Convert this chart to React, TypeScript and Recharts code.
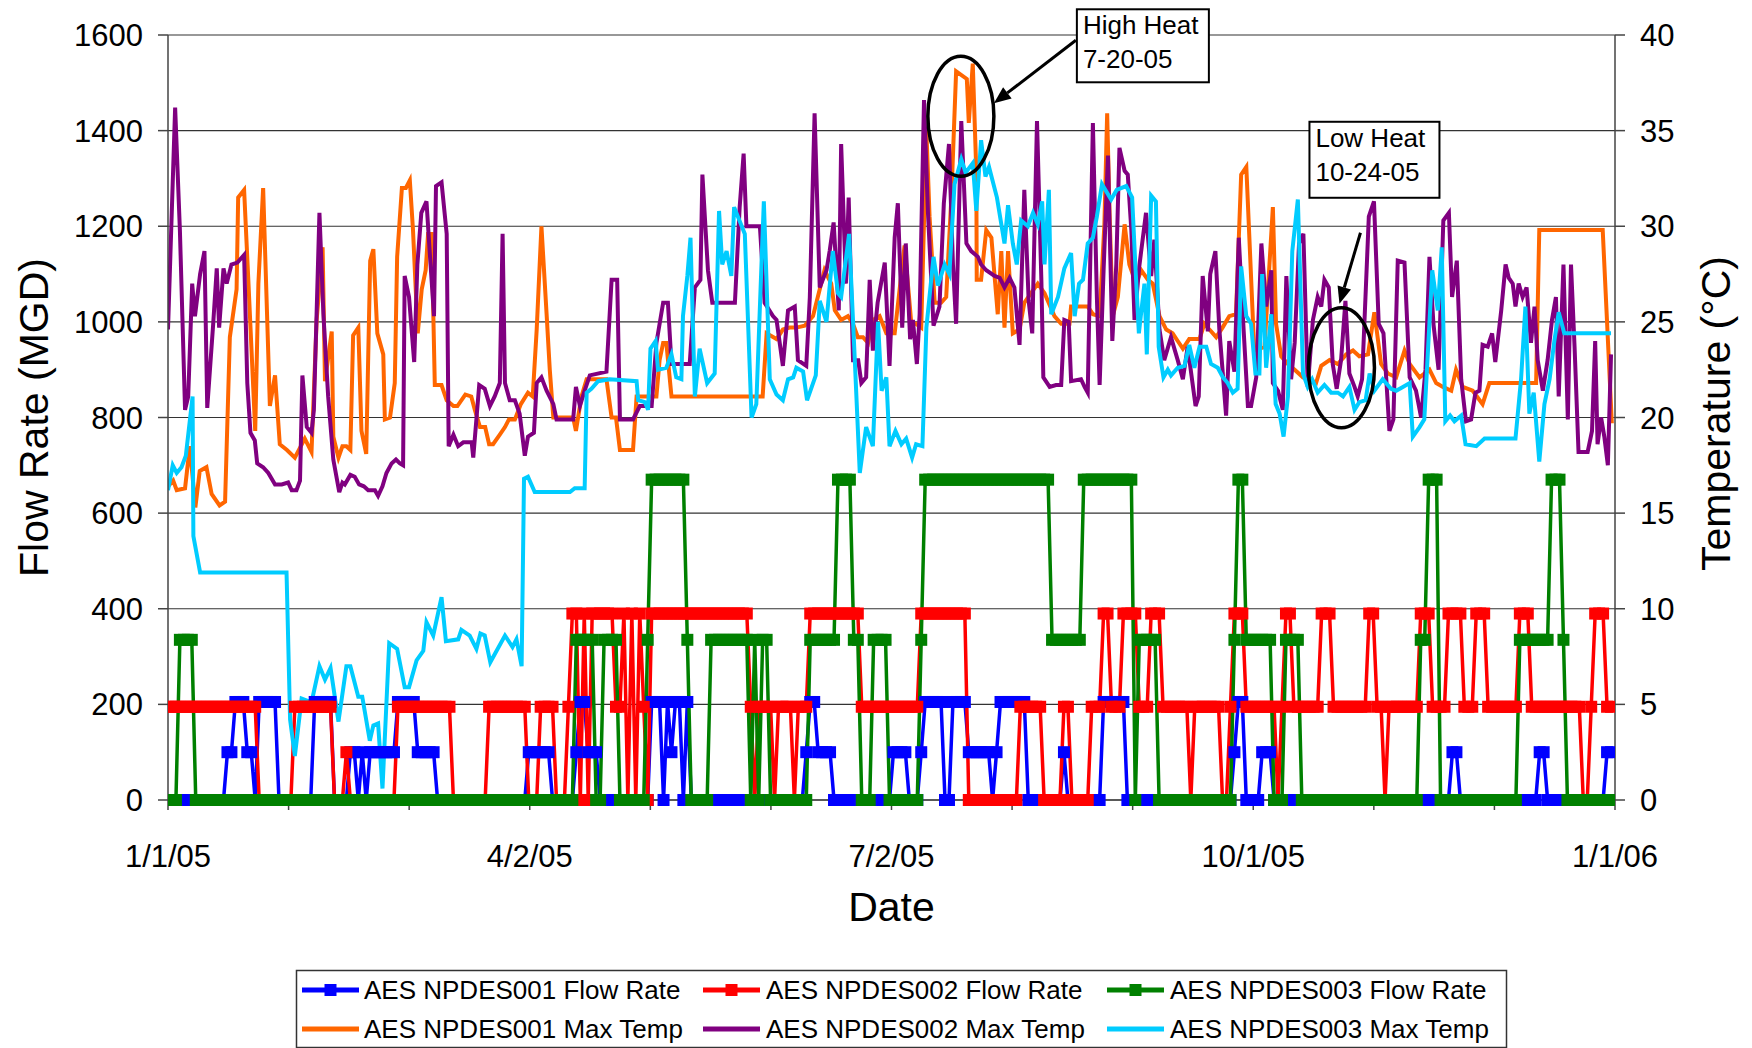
import React from "react";
import { LineChart, Line, XAxis, YAxis, CartesianGrid, ReferenceDot } from "recharts";

const FONT = "'Liberation Sans', Arial, Helvetica, sans-serif";

// Daily flow rates (MGD) from 1/1/05, as runs of [value, number of days]
const flow001Runs: [number, number][] = [
    [0, 15], [100, 2], [205, 3], [100, 2], [0, 1], [205, 5], [0, 9], [205, 5], [0, 4], [100, 2],
    [0, 1], [100, 1], [0, 1], [100, 7], [205, 5], [100, 5], [0, 23], [100, 6], [0, 6], [100, 1],
    [205, 2], [100, 3], [0, 13], [205, 3], [0, 1], [205, 1], [100, 1], [205, 2], [0, 1], [205, 1],
    [0, 29], [100, 1], [205, 2], [100, 4], [0, 15], [100, 4], [0, 3], [100, 1], [205, 5], [0, 2],
    [205, 4], [100, 6], [0, 1], [100, 1], [205, 7], [0, 9], [100, 1], [0, 9], [205, 6], [0, 27],
    [100, 1], [205, 2], [0, 4], [100, 3], [0, 45], [100, 2], [0, 20], [100, 2], [0, 15], [100, 2],
];

const flow002Runs: [number, number][] = [
    [195, 23], [0, 9], [195, 10], [0, 3], [100, 1], [0, 12], [195, 14], [0, 9], [195, 10], [0, 3],
    [195, 4], [0, 3], [195, 1], [390, 2], [0, 1], [390, 1], [0, 1], [390, 6], [195, 2], [390, 1],
    [0, 1], [390, 1], [0, 1], [390, 1], [195, 1], [0, 1], [390, 25], [195, 1], [0, 1], [195, 4],
    [0, 1], [195, 4], [0, 1], [195, 3], [390, 13], [195, 15], [390, 12], [0, 13], [195, 6], [0, 5],
    [195, 2], [0, 5], [195, 3], [390, 2], [195, 3], [390, 4], [195, 3], [390, 3], [195, 7], [0, 1],
    [195, 7], [0, 2], [195, 1], [390, 3], [195, 8], [0, 1], [195, 1], [390, 2], [195, 7], [390, 3],
    [195, 9], [390, 2], [195, 2], [0, 1], [195, 8], [390, 3], [195, 4], [390, 4], [195, 3], [390, 3],
    [195, 8], [390, 3], [195, 13], [0, 2], [195, 1], [390, 3], [195, 2],
];

const flow003Runs: [number, number][] = [
    [0, 3], [335, 4], [0, 96], [335, 5], [0, 2], [335, 4], [0, 7], [335, 1], [670, 9], [335, 1],
    [0, 5], [335, 10], [0, 1], [335, 1], [0, 1], [335, 2], [0, 10], [335, 7], [670, 4], [335, 2],
    [0, 3], [335, 4], [0, 8], [335, 1], [670, 32], [335, 8], [670, 13], [0, 1], [335, 5], [0, 19],
    [335, 1], [670, 2], [335, 7], [0, 3], [335, 4], [0, 30], [335, 2], [670, 3], [0, 20], [335, 8],
    [670, 3], [335, 1], [0, 12],
];

// Max temperatures (°C) as [day of year, value]
const temp001: [number, number][] = [
    [0, 16.4], [1.3, 16.7], [2.2, 16.2], [4.3, 16.3], [5.5, 18.5], [6.9, 15.3], [8, 17.2], [9.7, 17.4],
    [11, 16], [13, 15.4], [14.4, 15.6], [15.6, 24.2], [17.3, 26.7], [17.7, 31.5], [19.2, 31.9], [20.3, 27],
    [22, 19.3], [22.8, 27], [24, 32], [25.7, 20.6], [27, 22.2], [28.2, 18.6], [30, 18.3], [32, 17.9],
    [34.5, 18.9], [36.2, 18.2], [37.5, 25.1], [39, 28.9], [39.6, 21.9], [41.3, 24.5], [41.7, 19], [43, 17.9],
    [44, 18.5], [45, 18.5], [46, 18.3], [46.7, 24.3], [48, 24.7], [48.8, 19.3], [50, 18.1], [51, 28.2],
    [51.8, 28.8], [52.8, 24.4], [54.3, 23.3], [54.7, 19.9], [56, 20], [57.2, 21.8], [57.8, 28.4], [59, 32],
    [60, 32], [61, 32.4], [61.8, 29.8], [63, 24.4], [64, 26.7], [65, 27.7], [65.6, 29.6], [66.5, 29.6],
    [67.3, 21.7], [69, 21.7], [70.3, 20.9], [72, 20.6], [73, 20.6], [75, 21.2], [76.5, 21.1], [77.4, 20.4],
    [78.7, 19.5], [80, 19.5], [81, 18.6], [82, 18.6], [83.7, 19.1], [85, 19.5], [86, 19.9], [87.5, 19.9],
    [89, 20.7], [90.8, 21.3], [92, 21.1], [93, 24.6], [94.2, 30], [95.5, 25.4], [96.3, 22.5], [97.2, 20],
    [102.2, 20], [102.9, 19.3], [104.3, 21.1], [105.6, 22], [110.6, 22], [111.9, 20], [113, 20], [114, 18.3],
    [117.3, 18.3], [118.2, 21.1], [123.2, 21.1], [124, 23], [124.9, 23.9], [125.7, 23.9], [127, 21.1], [150, 21.1],
    [151, 24.4], [153.5, 24.1], [155.1, 24.6], [156.8, 24.7], [158.5, 24.7], [160.6, 24.8], [162.7, 25.3], [164.4, 26.7],
    [165.6, 27.7], [167.3, 27], [168.2, 25.6], [169.8, 25.1], [171.5, 25.3], [172.8, 24.9], [174, 24.2], [175.3, 24.2],
    [176.6, 23.9], [177.8, 25.1], [179.5, 25.3], [181.2, 24.4], [183.3, 24.4], [185.8, 29], [187.5, 24.9], [188.7, 24.9],
    [190, 24.7], [191.3, 35], [192.1, 30.5], [193.4, 26], [195, 26], [196.3, 26.3], [197.6, 31.5], [198.8, 38.1],
    [201.5, 37.7], [202, 35.4], [203, 38.5], [203.9, 32.8], [204, 27.2], [205.1, 27.2], [206.4, 29.8], [207.7, 29.4],
    [209.3, 25.4], [210.2, 28.7], [211, 24.7], [211.9, 28.7], [213.1, 24.4], [214.8, 24.6], [216, 26], [217.7, 26.5],
    [219.4, 27], [221.1, 26.5], [223.6, 25.3], [225.3, 24.9], [227.4, 24.9], [227.8, 25.8], [232, 25.8], [233.3, 25.4],
    [235, 25.3], [236.2, 30.1], [236.9, 35.9], [237.5, 30.7], [238.3, 25.3], [239.6, 26.3], [241.3, 30.1], [242.5, 28],
    [244.2, 27], [245.5, 27.7], [247.2, 27.2], [248.4, 27], [250.1, 25.3], [251.8, 24.6], [253.4, 24.4], [254.7, 24],
    [256, 23.6], [257.6, 24.1], [260.2, 24.1], [261.4, 24.9], [262.7, 24.6], [264.4, 24.2], [266, 24.7], [267.7, 25.3],
    [269.4, 25.4], [270.7, 32.7], [272, 33.1], [274, 23.5], [276.6, 23.7], [278.7, 31], [279.5, 24.9], [280.8, 23.2],
    [282.5, 22.8], [284.2, 22.5], [286.3, 22.1], [288, 22], [289.6, 21.8], [290.9, 22.7], [293, 23], [295.1, 22.8],
    [297.2, 23.3], [298.9, 23.5], [300.5, 23.2], [302.7, 23.3], [304.3, 25.5], [306, 22.8], [307.7, 22.3], [309.8, 22.1],
    [311.9, 23.5], [313.2, 22.8], [315.7, 22.1], [318.2, 22.5], [319.9, 21.8], [321.6, 21.6], [323.7, 21.4], [324.9, 22.5],
    [326.6, 21.6], [329.1, 21.4], [331.6, 20.7], [333.3, 21.8], [345.1, 21.8], [345.9, 29.8], [361.9, 29.8], [364.2, 19.7],
];

const temp002: [number, number][] = [
    [0, 24.6], [1.8, 36.2], [3, 29.8], [4.3, 20.4], [5.1, 21.1], [6.1, 27], [6.8, 25.3], [8.1, 27.5],
    [9.2, 28.7], [9.9, 20.5], [11.4, 24.9], [12.3, 27.8], [12.9, 24.7], [14, 27.8], [14.8, 27], [16, 28],
    [17.5, 28.1], [19.2, 28.5], [20, 21.8], [20.8, 19.2], [21.9, 18.8], [22.5, 17.6], [24, 17.4], [25.3, 17.1],
    [27, 16.5], [28.7, 16.5], [30.3, 16.6], [31.2, 16.2], [32.4, 16.2], [33.3, 16.7], [33.9, 22.2], [35, 19.5],
    [36.2, 19.2], [36.8, 20.4], [38.2, 30.7], [39.2, 25.4], [40.4, 21.1], [41.7, 17.8], [43.2, 16.1], [44, 16.6],
    [44.6, 16.5], [46, 17], [47.1, 16.9], [48.2, 16.5], [49.4, 16.4], [50.5, 16.2], [52.2, 16.2], [53, 15.9],
    [54.1, 16.4], [55.1, 17.1], [56.4, 17.6], [57.5, 17.8], [58.5, 17.6], [59.3, 17.5], [59.7, 27.4], [60.8, 26.3],
    [62.1, 22.9], [62.9, 28], [63.9, 30.7], [65.2, 31.3], [66, 28.7], [67.1, 25.3], [67.6, 32.1], [69, 32.3],
    [70.3, 29.6], [70.8, 18.5], [72, 19.1], [73.2, 18.5], [74.5, 18.7], [76.6, 18.7], [77, 17.9], [78.5, 21.7],
    [79.9, 21.5], [81.2, 20.6], [82.4, 21.1], [83.7, 21.8], [84.4, 29.6], [85, 21.8], [86.2, 20.9], [87.5, 20.9],
    [88.7, 20.2], [90, 18], [90.8, 19], [92.3, 19.2], [93, 21.8], [94.2, 22.1], [95.5, 21.4], [97.2, 20.7],
    [98, 19.9], [102.2, 19.9], [102.9, 21.6], [103.9, 20.6], [105.1, 21.4], [106.4, 22.2], [110.6, 22.4], [111.9, 27.2],
    [113.3, 27.2], [114, 19.9], [117.3, 19.9], [119, 20.6], [122, 20.6], [123.2, 23.9], [124.9, 26], [126.1, 26],
    [127, 22.8], [131.6, 22.8], [132.9, 26.8], [134.3, 27.2], [134.8, 32.7], [136.2, 27.7], [137.3, 26], [143, 26],
    [144.2, 31], [145.2, 33.8], [145.9, 30], [149.3, 30], [150.5, 26], [152.6, 25.3], [153.5, 25.1], [155.1, 22.7],
    [156.4, 25.6], [158.1, 25.8], [158.9, 23], [161, 22.7], [161.9, 26.3], [163.1, 35.9], [164.4, 26.8], [166.1, 27.7],
    [166.9, 28.7], [167.9, 30.2], [169.2, 25.6], [169.8, 34.3], [171, 27], [171.7, 31.5], [172.8, 23], [174.1, 23],
    [174.9, 21.8], [176.1, 22.1], [177, 27.2], [177.8, 23.5], [179, 26], [180.8, 28.1], [182, 22.7], [183.3, 29.4],
    [184.1, 31.2], [185.2, 24.7], [186.1, 29.1], [187.2, 24.1], [187.9, 25.1], [188.9, 22.8], [189.6, 25.4], [190.7, 36.6],
    [191.7, 30.7], [193.1, 24.8], [194.6, 25.8], [195.7, 31.2], [197, 34.3], [198, 28], [198.8, 24.9], [200.1, 35.5],
    [201.4, 29.1], [202.6, 28.7], [204.3, 28.4], [205.1, 28], [206.4, 27.7], [208.5, 27.4], [209.8, 27.3], [211, 26.8],
    [212.3, 27.3], [213.5, 26.8], [214.8, 23.8], [216, 31.9], [217.1, 26.1], [218, 24.4], [219.2, 35.5], [220.3, 27.2],
    [220.8, 22.1], [222.4, 21.6], [224, 21.7], [225.3, 21.7], [226.1, 25.1], [227.2, 25], [227.8, 21.9], [230.3, 22],
    [231.2, 21.6], [232, 21.3], [233.3, 35.4], [234.3, 26.3], [235, 21.7], [236, 27.7], [237.1, 33.7], [238.2, 24],
    [239.2, 28], [240, 34.1], [241.3, 32.9], [242.1, 32.7], [243, 29.8], [243.8, 25.1], [245, 27.9], [246.7, 30.7],
    [248, 27.4], [248.8, 29.3], [250.1, 24.6], [251.3, 23], [253, 24.2], [254.7, 23], [256, 22], [257.2, 23.7],
    [259.2, 20.6], [260, 21.1], [261, 27.4], [262.3, 24.5], [262.9, 27.5], [264.2, 28.7], [265.2, 24.6], [266.9, 20.1],
    [267.7, 24], [269, 22.4], [270.1, 29.4], [271.1, 25.4], [272.4, 20.6], [273.2, 20.6], [274.5, 22.1], [275.8, 29.1],
    [277, 25.8], [278.3, 27.7], [278.7, 21.8], [280, 21.4], [281.2, 20.4], [282.1, 27.4], [283.3, 22], [284.2, 23.9],
    [285.3, 29.1], [286.4, 29.6], [287.5, 21.6], [288.8, 25.1], [290, 26.3], [290.9, 25.8], [291.7, 27.2], [292.8, 26.8],
    [293.8, 22.8], [294.8, 21.5], [295.9, 23], [297, 26.1], [298, 22.3], [299.3, 21.6], [300.1, 21.1], [301.2, 22],
    [302.9, 30.5], [304.2, 31.3], [305.4, 24.9], [306.6, 24.4], [308.1, 19.3], [309.1, 19.9], [310.2, 28.2], [311.9, 28.1],
    [313.2, 22.1], [314.8, 21.4], [316.1, 20], [317.2, 22.5], [318.2, 28.4], [319.2, 24.9], [320.5, 22.5], [321.7, 30.3],
    [323.1, 30.7], [323.9, 26.3], [325.1, 28.2], [326.2, 22], [327.4, 19.8], [328.7, 19.9], [329.8, 21.3], [330.8, 21.4],
    [331.6, 23.8], [332.9, 23.7], [334, 24.4], [334.8, 22.9], [336.3, 25.6], [337.4, 28], [338.2, 27.3], [339.2, 27],
    [339.9, 25.8], [340.7, 27], [341.7, 26.3], [342.7, 26.8], [343.8, 23.9], [344.7, 25.8], [345.5, 23], [346.8, 21.4],
    [348, 23], [349.1, 25.1], [350.1, 26.3], [350.8, 21.1], [352, 28], [353.1, 19.9], [353.9, 28], [354.8, 23.7],
    [355.8, 18.2], [358.1, 18.2], [359.2, 19.3], [360, 24], [360.6, 18.6], [361.5, 20], [362.3, 19], [363.2, 17.5],
    [364, 23.3],
];

const temp003: [number, number][] = [
    [0, 16.2], [1.2, 17.5], [2.2, 17.1], [3.4, 17.4], [4.5, 18], [6.2, 21.1], [6.4, 13.8], [8.1, 11.9],
    [29.9, 11.9], [30.8, 4.2], [32, 2.3], [33.7, 5.3], [36.2, 5.1], [38.2, 7], [39.6, 6.3], [41, 6.9],
    [43, 4.1], [45, 7], [46, 7], [48, 5.4], [49, 5.4], [50.9, 3.1], [51.8, 3.9], [53, 4],
    [54.1, 0.6], [55.8, 8.2], [57.8, 7.9], [59.7, 5.9], [60.8, 5.9], [62.7, 7.3], [64.4, 7.8], [65.2, 9.3],
    [66.9, 8.6], [69, 10.6], [70.1, 8.3], [73.2, 8.4], [74, 8.9], [76.1, 8.6], [77.8, 7.9], [78.8, 8.7],
    [79.9, 8.6], [81.3, 7.2], [85, 8.6], [86.9, 8], [87.9, 8.4], [89.2, 7], [89.8, 16.8], [90.8, 16.9],
    [92.5, 16.1], [101.4, 16.1], [102.6, 16.3], [105.1, 16.3], [105.6, 21.3], [106.8, 21.5], [108.5, 21.9], [111.4, 22],
    [118.2, 21.9], [118.6, 20.9], [120.3, 20.8], [121.1, 20.4], [121.7, 23.6], [123, 24], [123.6, 22.5], [125.7, 22.6],
    [127, 23.3], [128.2, 22.1], [129.5, 22], [129.9, 25.3], [131, 27.4], [131.8, 29.4], [132.9, 21.1], [134.1, 23.6],
    [136, 21.8], [137.9, 22.3], [139, 30.8], [139.8, 28], [140.9, 28.7], [142.1, 27.4], [142.8, 31], [145.5, 29.6],
    [147.2, 20], [148.4, 20.7], [149.7, 28], [150.3, 31.3], [151.8, 22], [153.5, 21.2], [155.1, 20.9], [156.4, 22],
    [157.7, 22.1], [158.5, 22.6], [160.2, 22.4], [161.2, 20.9], [163.4, 22.2], [164.4, 26.1], [166.1, 25], [167.7, 28.7],
    [169, 26.5], [169.8, 26.3], [171.8, 29.6], [173.2, 23.2], [174.5, 17.1], [176.1, 19.5], [177.8, 18.5], [179.1, 25],
    [180, 21.4], [181.2, 22.1], [182, 18.5], [183.5, 19.3], [185, 18.6], [186.2, 18.9], [187.7, 17.9], [188.7, 18.6],
    [190.3, 18.5], [191.3, 24.7], [193.1, 28.4], [194.2, 26.9], [195.9, 28], [197.1, 27.5], [198.4, 32.2], [200.1, 33.5],
    [201.2, 32.8], [203, 33.3], [203.9, 30.8], [205.1, 34.5], [206.2, 32.6], [207.1, 33.1], [209.1, 31.5], [211, 29.1],
    [211.9, 31.1], [213.1, 29.1], [214.1, 28], [215.2, 30.3], [216.9, 30], [218.2, 30.7], [219.4, 30.1], [220.5, 31.3],
    [221.1, 28], [222.2, 31.9], [222.8, 25.4], [224.5, 26.3], [226.1, 27.8], [227.8, 28.6], [228.7, 25.3], [229.8, 27],
    [230.8, 27.2], [232, 29.1], [233.3, 29.4], [234.3, 30.5], [235.6, 32.2], [237.9, 31.4], [239.3, 31.9], [241.7, 32.1],
    [243.2, 31.5], [244, 28], [244.9, 24.4], [246.3, 27], [246.9, 23.3], [248, 31.6], [249.2, 31.3], [249.9, 23.7],
    [251.1, 22.1], [252.2, 22.5], [253, 22.2], [254.7, 22.6], [256.4, 22.7], [257.6, 23.8], [258.9, 22.6], [260.2, 23.7],
    [261.9, 23.7], [263.1, 22.8], [264.8, 22.6], [266.1, 22.1], [267.3, 21.8], [268.6, 21.3], [269.8, 21.5], [270.7, 27.9],
    [272, 25.3], [273.2, 24.9], [274.3, 22.3], [275.3, 22.3], [276, 27.5], [277, 22.6], [278.3, 25.4], [279.4, 20.7],
    [280.4, 20.2], [281.4, 19], [282.5, 21.1], [283.6, 28.7], [285, 31.4], [286.3, 22.3], [287.5, 21.6], [288.6, 22],
    [290, 21.3], [291.7, 21.7], [293.4, 21.3], [295.1, 21.3], [296.4, 21.1], [298, 21.6], [299.3, 20.4], [300.5, 20.8],
    [302.1, 20.9], [303.1, 22.3], [304.3, 21.4], [306.4, 22], [308.5, 21.5], [309.8, 21.4], [311.5, 21.6], [313.2, 21.8],
    [314, 19], [315.7, 19.5], [316.9, 19.9], [318.9, 27.7], [320.3, 25.6], [321.3, 28.9], [322.2, 19.8], [323.4, 20.1],
    [324.5, 19.8], [326.2, 20.1], [327.3, 18.6], [330, 18.5], [332.1, 18.9], [339.9, 18.9], [341.3, 22], [342.4, 25.8],
    [343.4, 20.2], [344.5, 21.3], [345.9, 17.7], [347.2, 20.7], [348.5, 22], [349.7, 24], [350.8, 25.5], [352.2, 24.4],
    [364, 24.4],
];

const dateLabels = ["1/1/05", "4/2/05", "7/2/05", "10/1/05", "1/1/06"];
const flowTicks = [0, 200, 400, 600, 800, 1000, 1200, 1400, 1600];
const tempTicks = [0, 5, 10, 15, 20, 25, 30, 35, 40];

const series = [
    { name: "AES NPDES001 Flow Rate", color: "#0000FF", flow: true },
    { name: "AES NPDES002 Flow Rate", color: "#FF0000", flow: true },
    { name: "AES NPDES003 Flow Rate", color: "#008000", flow: true },
    { name: "AES NPDES001 Max Temp", color: "#FF6600", flow: false },
    { name: "AES NPDES002 Max Temp", color: "#800080", flow: false },
    { name: "AES NPDES003 Max Temp", color: "#00CCFF", flow: false },
];

function expandRuns(runs: [number, number][]) {
    const out: { d: number; v: number }[] = [];
    let d = 0;
    for (const [v, n] of runs) {
        for (let i = 0; i < n; i++) {
            out.push({ d, v });
            d++;
        }
    }
    return out;
}

const toPoints = (arr: [number, number][]) => arr.map(([d, v]) => ({ d, v }));

const flowData = [expandRuns(flow001Runs), expandRuns(flow002Runs), expandRuns(flow003Runs)];
const tempData = [toPoints(temp001), toPoints(temp002), toPoints(temp003)];

const monthStep = 365 / 12;
const monthTicks = Array.from({ length: 13 }, (_, i) => i * monthStep);

const squareDot = (color: string) => (p: any) => (
    <rect key={`sq-${p.index}`} x={p.cx - 6} y={p.cy - 6} width={12} height={12} fill={color} />
);

function arrowHead(x1: number, y1: number, x2: number, y2: number) {
    const a = Math.atan2(y2 - y1, x2 - x1);
    const len = 17, half = 7;
    const bx = x2 - len * Math.cos(a), by = y2 - len * Math.sin(a);
    return {
        base: [bx, by],
        pts: `${x2},${y2} ${bx + half * Math.sin(a)},${by - half * Math.cos(a)} ${bx - half * Math.sin(a)},${by + half * Math.cos(a)}`,
    };
}

// callout: ellipse around the point, a boxed note and an arrow (offsets in px from the point)
function callout(lines: string[], box: number[], from: number[], to: number[]) {
    return (p: any) => {
        const { cx, cy } = p;
        const x1 = cx + from[0], y1 = cy + from[1], x2 = cx + to[0], y2 = cy + to[1];
        const head = arrowHead(x1, y1, x2, y2);
        return (
            <g>
                <ellipse cx={cx} cy={cy} rx={33} ry={60} fill="none" stroke="#000" strokeWidth={3.5} />
                <line x1={x1} y1={y1} x2={head.base[0]} y2={head.base[1]} stroke="#000" strokeWidth={3} />
                <polygon points={head.pts} fill="#000" />
                <rect x={cx + box[0]} y={cy + box[1]} width={box[2]} height={box[3]} fill="#fff" stroke="#000" strokeWidth={2} />
                {lines.map((t, i) => (
                    <text key={i} x={cx + box[0] + 6} y={cy + box[1] + 25 + i * 34} fontSize={26} fontFamily={FONT} fill="#000">
                        {t}
                    </text>
                ))}
            </g>
        );
    };
}

const highHeat = callout(["High Heat", "7-20-05"], [116, -107, 132, 73], [115, -76], [33, -13]);
const lowHeat = callout(["Low Heat", "10-24-05"], [-32, -246, 130, 76], [19, -135], [-2, -64]);

export default function App() {
    const tickStyle = { fill: "#000", fontSize: 31, fontFamily: FONT };
    const axisStroke = { stroke: "#444", strokeWidth: 1.5 };

    return (
        <div style={{ position: "absolute", left: 0, top: 0, width: 1752, height: 1048, background: "#fff", fontFamily: FONT }}>
            <LineChart width={1752} height={1048} margin={{ top: 35, right: 0, left: 0, bottom: 128 }}>
                <CartesianGrid vertical={false} yAxisId="flow" stroke="#333" strokeWidth={1.2} />
                <XAxis
                    dataKey="d"
                    type="number"
                    domain={[0, 365]}
                    allowDataOverflow
                    ticks={monthTicks}
                    interval={0}
                    height={120}
                    tick={tickStyle}
                    tickSize={10}
                    tickMargin={35}
                    axisLine={axisStroke}
                    tickLine={axisStroke}
                    tickFormatter={(v: number) => {
                        const i = Math.round(v / monthStep);
                        return i % 3 === 0 ? dateLabels[i / 3] : "";
                    }}
                    label={(p: any) => (
                        <text x={p.viewBox.x + p.viewBox.width / 2} y={p.viewBox.y + 107} textAnchor="middle" dominantBaseline="central" fontSize={41} fontFamily={FONT} fill="#000">
                            Date
                        </text>
                    )}
                />
                <YAxis
                    yAxisId="flow"
                    domain={[0, 1600]}
                    ticks={flowTicks}
                    interval={0}
                    width={168}
                    tick={tickStyle}
                    tickSize={10}
                    tickMargin={15}
                    axisLine={axisStroke}
                    tickLine={axisStroke}
                    label={(p: any) => {
                        const x = p.viewBox.x + 34, y = p.viewBox.y + p.viewBox.height / 2;
                        return (
                            <text x={x} y={y} transform={`rotate(-90, ${x}, ${y})`} textAnchor="middle" dominantBaseline="central" fontSize={41} fontFamily={FONT} fill="#000">
                                Flow Rate (MGD)
                            </text>
                        );
                    }}
                />
                <YAxis
                    yAxisId="temp"
                    orientation="right"
                    domain={[0, 40]}
                    ticks={tempTicks}
                    interval={0}
                    width={137}
                    tick={tickStyle}
                    tickSize={10}
                    tickMargin={15}
                    axisLine={axisStroke}
                    tickLine={axisStroke}
                    label={(p: any) => {
                        const x = p.viewBox.x + 101, y = p.viewBox.y + p.viewBox.height / 2 - 4;
                        return (
                            <text x={x} y={y} transform={`rotate(-90, ${x}, ${y})`} textAnchor="middle" dominantBaseline="central" fontSize={41} fontFamily={FONT} fill="#000">
                                Temperature (°C)
                            </text>
                        );
                    }}
                />

                {flowData.map((data, i) => (
                    <Line
                        key={series[i].name}
                        data={data}
                        yAxisId="flow"
                        dataKey="v"
                        name={series[i].name}
                        type="linear"
                        stroke={series[i].color}
                        strokeWidth={3.5}
                        dot={squareDot(series[i].color)}
                        activeDot={false}
                        isAnimationActive={false}
                    />
                ))}
                {tempData.map((data, i) => (
                    <Line
                        key={series[i + 3].name}
                        data={data}
                        yAxisId="temp"
                        dataKey="v"
                        name={series[i + 3].name}
                        type="linear"
                        stroke={series[i + 3].color}
                        strokeWidth={4}
                        dot={false}
                        activeDot={false}
                        isAnimationActive={false}
                    />
                ))}

                <ReferenceDot yAxisId="temp" x={200} y={35.75} shape={highHeat} />
                <ReferenceDot yAxisId="temp" x={296} y={22.6} shape={lowHeat} />
            </LineChart>

            <svg width={1752} height={1048} style={{ position: "absolute", left: 0, top: 0, pointerEvents: "none" }}>
                <rect x={296.5} y={970.5} width={1210} height={77} fill="#fff" stroke="#333" strokeWidth={1.5} />
                {series.map((s, i) => {
                    const col = i % 3, row = Math.floor(i / 3);
                    const x0 = [302, 703, 1107][col];
                    const tx = [364, 766, 1170][col];
                    const y = [990, 1029][row];
                    return (
                        <g key={s.name}>
                            <line x1={x0} y1={y} x2={x0 + 57} y2={y} stroke={s.color} strokeWidth={5} />
                            {s.flow && <rect x={x0 + 22.5} y={y - 6} width={12} height={12} fill={s.color} />}
                            <text x={tx} y={y} dominantBaseline="central" fontSize={26} fontFamily={FONT} fill="#000">
                                {s.name}
                            </text>
                        </g>
                    );
                })}
            </svg>
        </div>
    );
}
